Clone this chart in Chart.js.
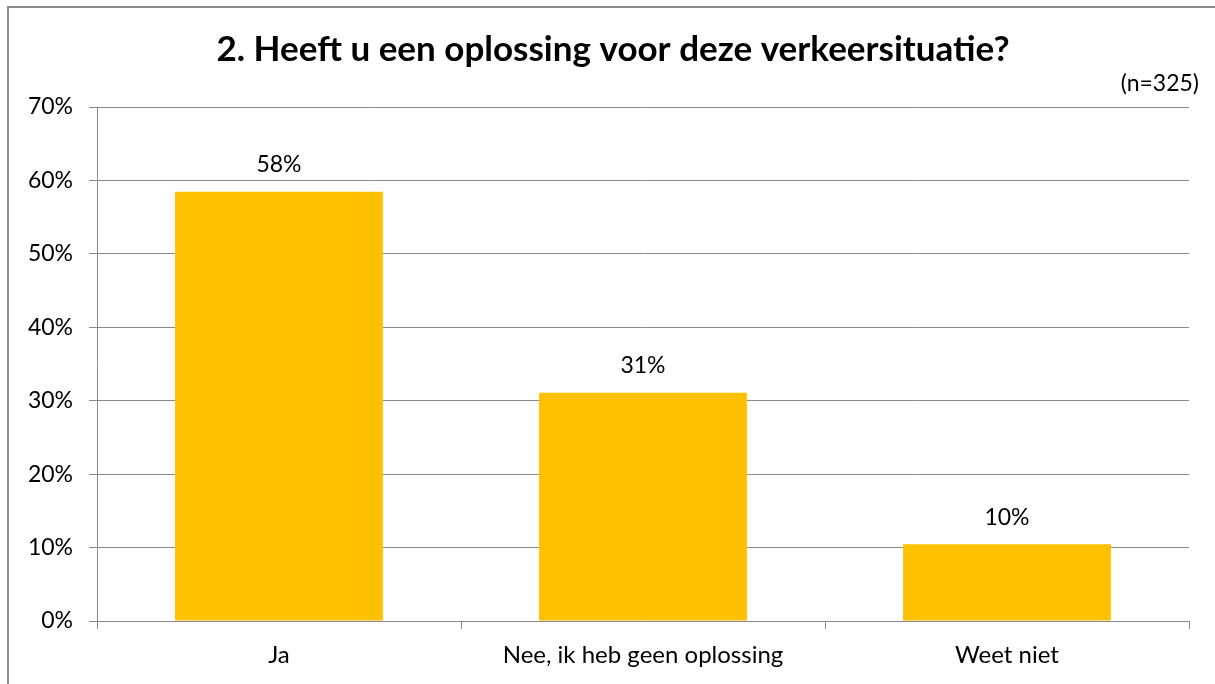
<!DOCTYPE html>
<html>
<head>
<meta charset="utf-8">
<script src="https://cdn.jsdelivr.net/npm/chart.js@4"></script>
<style>
  html, body { margin: 0; padding: 0; background: #fff; overflow: hidden; }
  #wrap { position: relative; width: 1215px; height: 684px; }
  #frame { position: absolute; left: 7px; top: 6px; width: 1400px; height: 900px; border: 2px solid #898989; box-sizing: border-box; }
  canvas { position: absolute; left: 0; top: 0; }
</style>
</head>
<body>
<div id="wrap">
  <div id="frame"></div>
  <canvas id="c" width="1215" height="684"></canvas>
</div>
<script>
const titleText = "2. Heeft u een oplossing voor deze verkeersituatie?";
const noteText = "(n=325)";
const categories = ["Ja", "Nee, ik heb geen oplossing", "Weet niet"];
const values = [58.46, 31.08, 10.46];
const valueLabels = ["58%", "31%", "10%"];
const yTicks = [0, 10, 20, 30, 40, 50, 60, 70];

const FONT = "Lato, 'Open Sans', sans-serif";
const gridColor = "#898989";

const textPlugin = {
  id: "texts",
  afterDraw(chart) {
    const ctx = chart.ctx;
    ctx.save();
    ctx.fillStyle = "#000";
    ctx.font = "bold 35px " + FONT;
    ctx.textAlign = "center";
    ctx.textBaseline = "middle";
    ctx.fillText(titleText, 613, 50);
    ctx.font = "23px " + FONT;
    ctx.textAlign = "right";
    ctx.fillText(noteText, 1199, 84);
    // data labels
    const meta = chart.getDatasetMeta(0);
    ctx.textAlign = "center";
    ctx.textBaseline = "middle";
    meta.data.forEach((bar, i) => {
      ctx.fillText(valueLabels[i], bar.x, bar.y - 27);
    });
    ctx.restore();
  }
};

new Chart(document.getElementById("c"), {
  type: "bar",
  data: {
    labels: categories,
    datasets: [{
      data: values,
      backgroundColor: "#FFC000",
      borderWidth: 0,
      categoryPercentage: 1,
      barPercentage: 0.571
    }]
  },
  options: {
    responsive: false,
    animation: false,
    devicePixelRatio: 1,
    layout: { padding: { left: 0, right: 26, top: 107, bottom: 0 } },
    plugins: { legend: { display: false }, title: { display: false }, tooltip: { enabled: false } },
    scales: {
      x: {
        afterFit(s) { s.height = 63; },
        grid: { offset: true, drawOnChartArea: false, drawTicks: true, tickLength: 8, color: gridColor, lineWidth: 1 },
        border: { display: true, color: gridColor, width: 1 },
        ticks: { color: "#000", font: { family: FONT, size: 24 }, padding: 12, maxRotation: 0 }
      },
      y: {
        min: 0, max: 70,
        afterFit(s) { s.width = 97; },
        afterBuildTicks(s) { s.ticks = yTicks.map(v => ({ value: v })); },
        grid: { color: gridColor, lineWidth: 1, drawTicks: true, tickLength: 8 },
        border: { display: true, color: gridColor, width: 1 },
        ticks: { color: "#000", font: { family: FONT, size: 23 }, padding: 16, callback: v => v + "%" }
      }
    }
  },
  plugins: [textPlugin]
});
</script>
</body>
</html>
